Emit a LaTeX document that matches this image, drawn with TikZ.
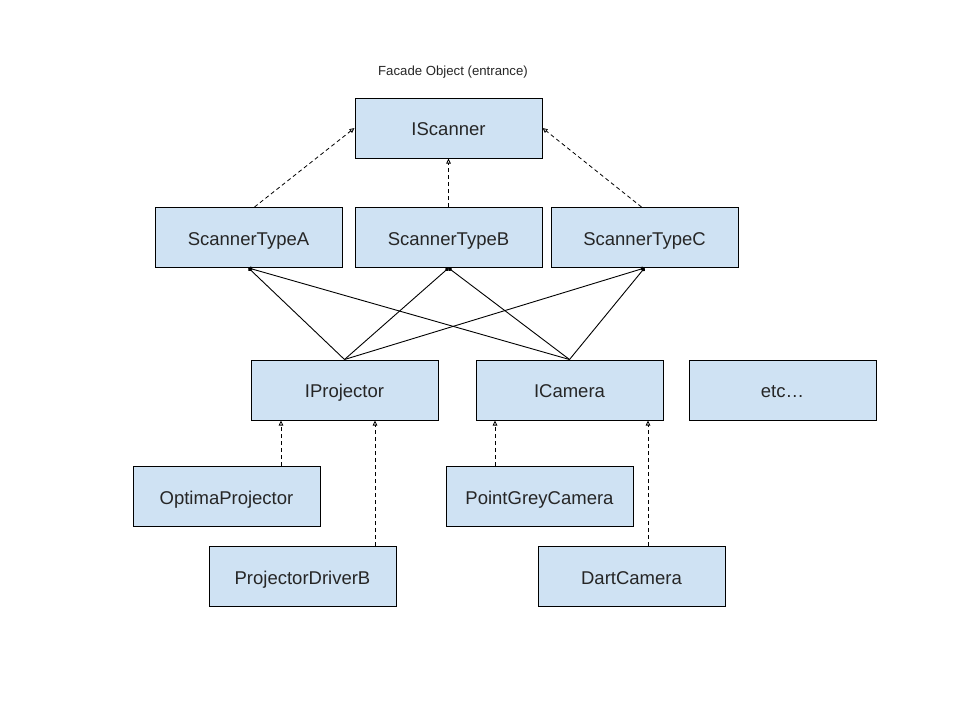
\documentclass[tikz,border=0pt]{standalone}
\usepackage{fontspec}
\setmainfont{Liberation Sans}
\usetikzlibrary{arrows.meta}
\definecolor{boxblue}{HTML}{CFE2F3}
\begin{document}
\begin{tikzpicture}[x=1pt,y=-1pt]
    \tikzstyle{cls}=[draw=black,line width=1pt,fill=boxblue,minimum width=187pt,minimum height=60pt,inner sep=0pt,text height=15pt,text depth=0pt,font=\fontsize{18.5}{22}\selectfont,text=black!85]
    \tikzstyle{impl}=[line width=0.8pt,dash pattern=on 4pt off 3pt,-{Triangle[open,length=5pt,width=4.5pt]}]
    \tikzstyle{uses}=[line width=0.9pt,-{Circle[length=4pt]}]

    \useasboundingbox (0,0) rectangle (960,720);

    \node[font=\fontsize{13.2}{16}\selectfont,text=black!85] at (453,72) (cap) {Facade Object (entrance)};

    \node[cls] at (448.5,128) (isc) {IScanner};
    \node[cls] at (248.5,237.5) (sta) {ScannerTypeA};
    \node[cls] at (448.5,237.5) (stb) {ScannerTypeB};
    \node[cls] at (644.5,237.5) (stc) {ScannerTypeC};

    \node[cls] at (344.5,390) (ipr) {IProjector};
    \node[cls] at (569.5,390) (icam) {ICamera};
    \node[cls] at (782.5,390) (etc) {etc\ldots};

    \node[cls] at (226.5,496.5) (opt) {OptimaProjector};
    \node[cls] at (539.5,496.5) (pgc) {PointGreyCamera};
    \node[cls] at (302.5,576.5) (pdb) {ProjectorDriverB};
    \node[cls] at (631.5,576.5) (dart) {DartCamera};

    % scanner types implement IScanner
    \draw[impl] ([xshift=6pt]sta.north) -- (isc.west);
    \draw[impl] (stb.north) -- (isc.south);
    \draw[impl] ([xshift=-3pt]stc.north) -- (isc.east);

    % every scanner type uses projector and camera
    \foreach \s in {sta,stb,stc} {
        \draw[uses] (ipr.north) -- (\s.south);
        \draw[uses] (icam.north) -- (\s.south);
    }

    \draw[impl] ([xshift=54.5pt]opt.north) -- ([xshift=54.5pt]opt.north |- ipr.south);
    \draw[impl] ([xshift=72.5pt]pdb.north) -- ([xshift=72.5pt]pdb.north |- ipr.south);
    \draw[impl] ([xshift=-44.5pt]pgc.north) -- ([xshift=-44.5pt]pgc.north |- icam.south);
    \draw[impl] ([xshift=16.5pt]dart.north) -- ([xshift=16.5pt]dart.north |- icam.south);
\end{tikzpicture}
\end{document}
